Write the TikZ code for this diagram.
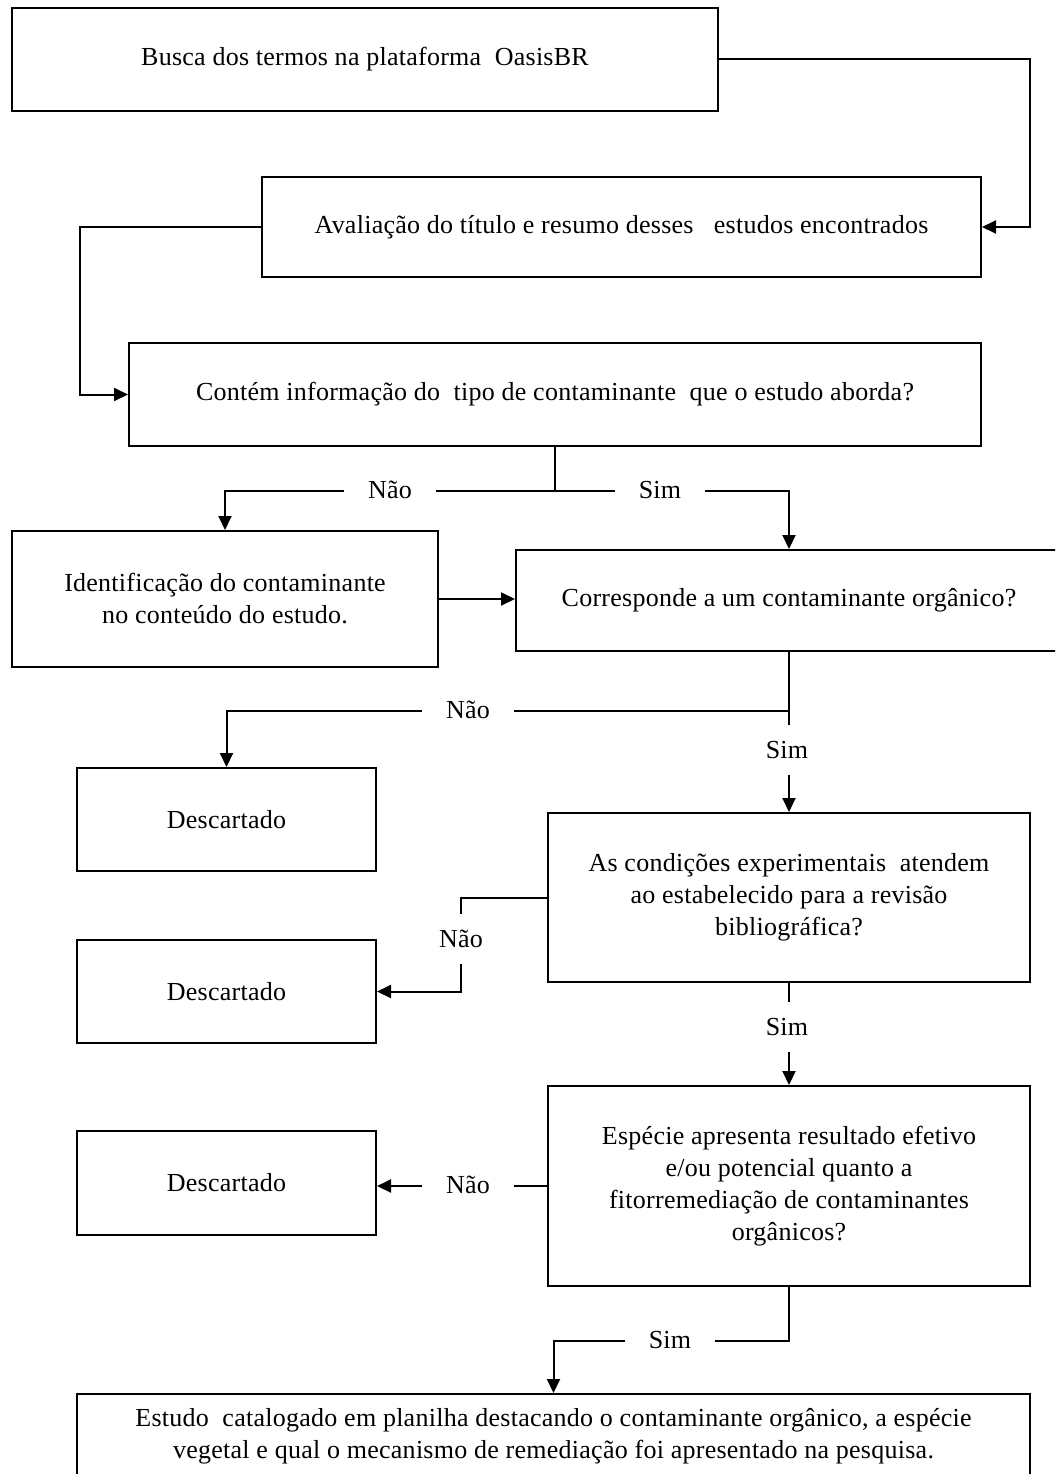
\documentclass[tikz,border=0pt]{standalone}
\usepackage{fontspec}
\setmainfont{Liberation Serif}[LetterSpace=1]
\usetikzlibrary{arrows.meta}
\begin{document}
\begin{tikzpicture}[x=1pt,y=-1pt,
  box/.style={draw, line width=2pt, inner sep=0pt, align=center, font=\fontsize{26}{32}\selectfont},
  lab/.style={fill=white, inner xsep=24pt, inner ysep=16pt, font=\fontsize{26}{32}\selectfont},
  arr/.style={line width=2pt, -{Triangle[length=14pt,width=13pt]}},
  ln/.style={line width=2pt}]
\clip (0,0) rectangle (1055,1474);
\fill[white] (0,0) rectangle (1055,1474);

\node[box, minimum width=706, minimum height=103] (b1) at (365,59.5) {Busca dos termos na plataforma \ OasisBR};
\node[box, minimum width=719, minimum height=100] (b2) at (621.5,227) {Avaliação do título e resumo desses \ \ estudos encontrados};
\node[box, minimum width=852, minimum height=103] (b3) at (555,394.5) {Contém informação do \ tipo de contaminante \ que o estudo aborda?};
\node[box, minimum width=426, minimum height=136] (b4) at (225,599) {Identificação do contaminante\\no conteúdo do estudo.};
\node[box, minimum width=546, minimum height=101] (b5) at (789,600.5) {Corresponde a um contaminante orgânico?};
\node[box, minimum width=299, minimum height=103] (b6) at (226.5,819.5) {Descartado};
\node[box, minimum width=482, minimum height=169] (b7) at (789,897.5) {As condições experimentais \ atendem\\ao estabelecido para a revisão\\bibliográfica?};
\node[box, minimum width=299, minimum height=103] (b8) at (226.5,991.5) {Descartado};
\node[box, minimum width=482, minimum height=200] (b9) at (789,1186) {Espécie apresenta resultado efetivo\\e/ou potencial quanto a\\fitorremediação de contaminantes\\orgânicos?};
\node[box, minimum width=299, minimum height=104] (b10) at (226.5,1183) {Descartado};
\node[box, minimum width=953, minimum height=84] (b11) at (553.5,1436) {Estudo \ catalogado em planilha destacando o contaminante orgânico, a espécie\\vegetal e qual o mecanismo de remediação foi apresentado na pesquisa.};

\coordinate (r1) at (1030,0);
\coordinate (l2) at (80,0);
\draw[arr] (b1.east) -- (b1.east -| r1) |- (b2.east);
\draw[arr] (b2.west) -- (b2.west -| l2) |- (b3.west);
\draw[arr] (b3.south) -- ++(0,44) -| (b4.north);
\draw[arr] (b3.south) -- ++(0,44) -| (b5.north);
\draw[arr] (b4.east) -- (b4.east -| b5.west);
\draw[arr] (b5.south) -- ++(0,59) -| (b6.north);
\draw[arr] (b5.south) -- (b7.north);
\draw[arr] (b7.west) -- ++(-86,0) |- (b8.east);
\draw[arr] (b7.south) -- (b9.north);
\draw[arr] (b9.west) -- (b9.west -| b10.east);
\draw[arr] (b9.south) -- ++(0,54) -| (b11.north);

\node[lab] (n1) at (390,490) {Não};
\node[lab] (s1) at (660,490) {Sim};
\node[lab] (n2) at (468,710) {Não};
\node[lab] (s2) at (787,750) {Sim};
\node[lab] (n3) at (461,939) {Não};
\node[lab] (s3) at (787,1027) {Sim};
\node[lab] (n4) at (468,1185) {Não};
\node[lab] (s4) at (670,1340) {Sim};
\end{tikzpicture}
\end{document}
